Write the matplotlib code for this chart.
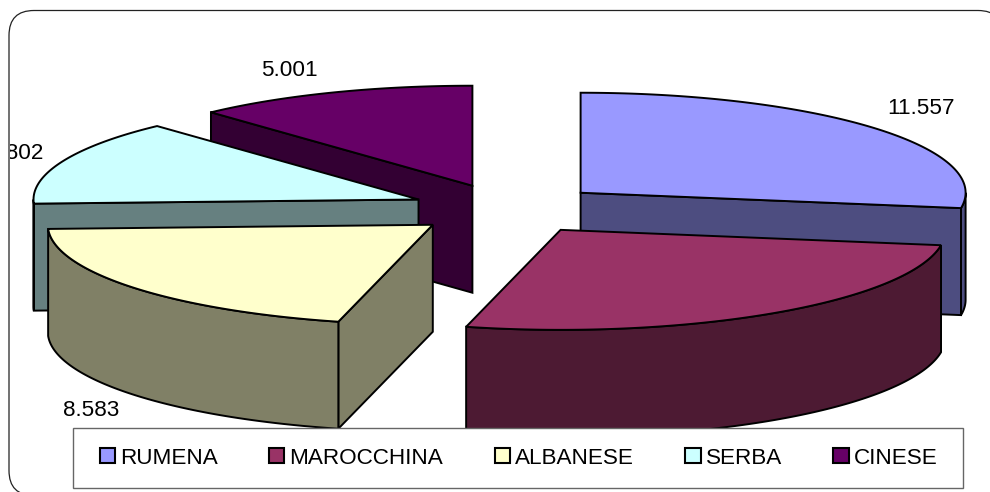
import numpy as np
import matplotlib
matplotlib.use("Agg")
import matplotlib.pyplot as plt
from matplotlib.patches import Polygon, Rectangle, FancyBboxPatch, Patch
from matplotlib.transforms import Bbox

plt.rcParams['font.family'] = ['Liberation Sans', 'DejaVu Sans']

# values read from the labels, MAROCCHINA is hidden by the legend so it is estimated from its angle
names = ["RUMENA", "MAROCCHINA", "ALBANESE", "SERBA", "CINESE"]
values = [11557, 11150, 8583, 5802, 5001]
labels = ["11.557", None, "8.583", "5.802", "5.001"]
colors = ["#9999FF", "#993366", "#FFFFCC", "#CCFFFF", "#660066"]

# pie geometry, in pixels
cx, cy = 507.5, 209
rx, ry = 385, 100
depth = 107
explode = 0.25
line = 1.4

# label offset from the middle of the arc (on the bottom of the wall if it faces us)
label_offsets = [(48, -19), None, (-43, 16), (-47, -8), (-43, -22)]


def arc(x0, y0, a1, a2):
    t = np.radians(np.linspace(a1, a2, 120))
    return np.column_stack([x0 + rx * np.sin(t), y0 - ry * np.cos(t)])


def darker(c):
    rgb = matplotlib.colors.to_rgb(c)
    return tuple(v / 2 for v in rgb)


fig = plt.figure(figsize=(9.9, 4.92), dpi=100)
ax = fig.add_axes([0, 0, 1, 1])
ax.set_xlim(0, 990)
ax.set_ylim(492, 0)
ax.axis("off")

# rounded frame, runs out of the picture on the right and at the bottom
frame = FancyBboxPatch((34, 35.5), 944, 435, boxstyle="round,pad=25,rounding_size=25",
                       fc="white", ec="#222222", lw=0.9, zorder=0)
ax.add_patch(frame)

bounds = np.cumsum([0] + values) / sum(values) * 360
slices = []
for i in range(len(values)):
    a1, a2 = bounds[i], bounds[i + 1]
    mid = np.radians((a1 + a2) / 2)
    x0 = cx + explode * rx * np.sin(mid)
    y0 = cy - explode * ry * np.cos(mid)
    slices.append((y0, x0, a1, a2, i))

# back slices first
for y0, x0, a1, a2, i in sorted(slices):
    top = arc(x0, y0, a1, a2)
    side = darker(colors[i])
    walls = []
    if np.sin(np.radians(a1)) < -1e-6:
        walls.append(top[0])
    if np.sin(np.radians(a2)) > 1e-6:
        walls.append(top[-1])
    for p in walls:
        quad = [(x0, y0), p, (p[0], p[1] + depth), (x0, y0 + depth)]
        ax.add_patch(Polygon(quad, fc=side, ec="black", lw=line, zorder=2 + y0 / 1000))
    w1, w2 = max(a1, 90), min(a2, 270)
    if w1 < w2:
        upper = arc(x0, y0, w1, w2)
        lower = upper[::-1] + [0, depth]
        ax.add_patch(Polygon(np.vstack([upper, lower]), fc=side, ec="black", lw=line, zorder=2 + y0 / 1000))
    ax.add_patch(Polygon(np.vstack([[x0, y0], top]), fc=colors[i], ec="black", lw=line, zorder=2 + y0 / 1000))

for y0, x0, a1, a2, i in slices:
    if labels[i] is None:
        continue
    mid = (a1 + a2) / 2
    p = arc(x0, y0, mid, mid)[0]
    yy = p[1] + depth if np.cos(np.radians(mid)) < 0 else p[1]
    dx, dy = label_offsets[i]
    t = ax.text(p[0] + dx, yy + dy, labels[i], fontsize=16.2, ha="center", va="center",
                color="black", zorder=5, clip_on=True)
    # the SERBA label is cut at the frame, as in the original (box in display pixels)
    t.set_clip_box(Bbox([[9.5, 0], [990, 492]]))

# legend box sits on top of the pie
ax.add_patch(Rectangle((73, 428), 890, 60, fc="white", ec="#666666", lw=1.0, zorder=6))
handles = [Patch(fc=c, ec="black", lw=1.5) for c in colors]
leg = ax.legend(handles, names, ncols=5, frameon=False, fontsize=16.2,
                loc="center", bbox_to_anchor=(518.5 / 990, 1 - 458 / 492),
                handlelength=0.67, handleheight=0.67, handletextpad=0.22,
                columnspacing=2.30, borderpad=0, borderaxespad=0)
leg.set_zorder(7)

fig.savefig("out.png", dpi=100)
